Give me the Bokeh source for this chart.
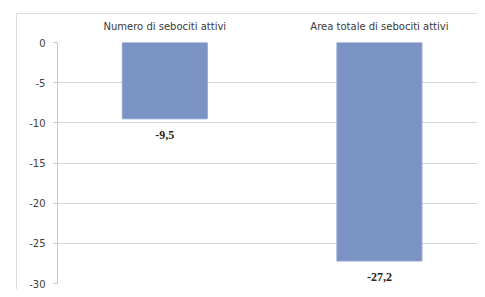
from bokeh.plotting import figure
from bokeh.models import (ColumnDataSource, Range1d, LabelSet, LinearAxis,
                          FixedTicker, PrintfTickFormatter, InlineStyleSheet)
from bokeh.embed import file_html
from bokeh.resources import INLINE

categories = ["Numero di sebociti attivi", "Area totale di sebociti attivi"]
values = [-9.5, -27.2]
labels = [f"{v:.1f}".replace(".", ",") for v in values]
y_ticks = [0, -5, -10, -15, -20, -25, -30]

positions = [i + 0.5 for i in range(len(categories))]
src = ColumnDataSource(dict(x=positions, val=values, lab=labels))

FONT = "DejaVu Sans"

p = figure(width=477, height=289, x_range=Range1d(0, 1.957), y_range=Range1d(-30, 0),
           output_backend="svg", toolbar_location=None, x_axis_location=None,
           min_border_left=57, min_border_right=0, min_border_top=42, min_border_bottom=6)
p.outline_line_color = None
p.border_fill_color = None
p.background_fill_color = "white"
p.stylesheets = [InlineStyleSheet(css=(
    ":host { background-color: white;"
    " background-image: linear-gradient(#dcdcdc, #dcdcdc), linear-gradient(#dcdcdc, #dcdcdc);"
    " background-position: 16px 13px, 16px 13px;"
    " background-size: 1px 100%, 100% 1px;"
    " background-repeat: no-repeat; }"))]

p.vbar(x="x", top="val", bottom=0, width=0.396, source=src,
       fill_color="#7b92c5", line_color="#8da2cf", line_width=1)

p.add_layout(LabelSet(x="x", y="val", text="lab", source=src, text_align="center",
                      text_baseline="top", y_offset=-12, text_font=FONT,
                      text_font_size="12px", text_font_style="bold", text_color="#262626"))

xa = LinearAxis(ticker=FixedTicker(ticks=positions),
                major_label_overrides={pos: c for pos, c in zip(positions, categories)},
                axis_line_color=None, major_tick_line_color=None, minor_tick_line_color=None,
                major_label_text_font=FONT, major_label_text_font_size="10px",
                major_label_text_color="#3a3a3a", major_label_standoff=5)
p.add_layout(xa, "above")

ya = p.yaxis[0]
ya.ticker = FixedTicker(ticks=y_ticks)
ya.formatter = PrintfTickFormatter(format="%d")
ya.axis_line_color = "#c8c8c8"
ya.major_tick_line_color = "#c8c8c8"
ya.major_tick_out = 4
ya.major_tick_in = 0
ya.minor_tick_line_color = None
ya.major_label_text_font = FONT
ya.major_label_text_font_size = "10px"
ya.major_label_text_color = "#404040"
ya.major_label_standoff = 8

p.xgrid.grid_line_color = None
p.ygrid.grid_line_color = "#d6d6d6"
p.ygrid.ticker = FixedTicker(ticks=y_ticks)

open("out.html", "w").write(file_html(p, INLINE))
